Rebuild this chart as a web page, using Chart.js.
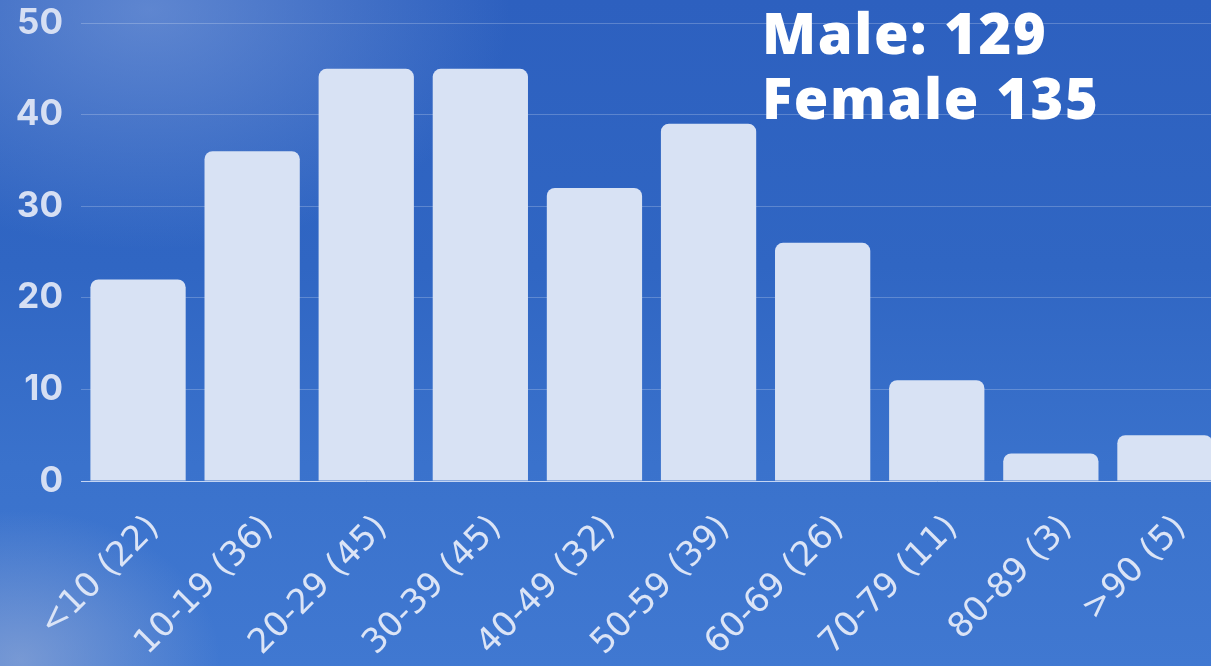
<!DOCTYPE html>
<html>
<head>
<meta charset="utf-8">
<script src="https://cdn.jsdelivr.net/npm/chart.js@4"></script>
<style>
  html, body { margin: 0; padding: 0; }
  body {
    width: 1211px; height: 666px; overflow: hidden; position: relative;
    background:
      radial-gradient(ellipse 360px 240px at 150px 10px, rgba(135,165,222,0.55), rgba(135,165,222,0) 100%),
      radial-gradient(ellipse 200px 150px at 20px 660px, rgba(165,180,215,0.55), rgba(165,180,215,0) 100%),
      linear-gradient(180deg, #2d60bf 0%, #3066c3 40%, #3a72cc 70%, #4078d1 100%);
  }
  #wrap { position: absolute; left: 0; top: -16px; width: 1222px; height: 682px; }
  #totals {
    position: absolute; left: 762px; top: 0px;
    font-family: "Open Sans", sans-serif; font-weight: 800; font-size: 56px;
    line-height: 65px; color: #ffffff; letter-spacing: 1.6px;
  }
</style>
</head>
<body>
<div id="wrap"><canvas id="ageChart"></canvas></div>
<div id="totals">Male: 129<br>Female 135</div>
<script>
const ageGroups = ['<10 (22)', '10-19 (36)', '20-29 (45)', '30-39 (45)', '40-49 (32)',
                   '50-59 (39)', '60-69 (26)', '70-79 (11)', '80-89 (3)', '>90 (5)'];
const counts = [22, 36, 45, 45, 32, 39, 26, 11, 3, 5];
const yTicks = [0, 10, 20, 30, 40, 50];

const ctx = document.getElementById('ageChart').getContext('2d');
new Chart(ctx, {
  type: 'bar',
  data: {
    labels: ageGroups,
    datasets: [{
      data: counts,
      backgroundColor: '#d8e2f4',
      borderRadius: 8,
      borderSkipped: 'bottom',
      categoryPercentage: 1,
      barPercentage: 0.835
    }]
  },
  options: {
    responsive: true,
    maintainAspectRatio: false,
    animation: false,
    layout: { padding: 0 },
    plugins: { legend: { display: false }, tooltip: { enabled: false } },
    scales: {
      x: {
        grid: { display: false },
        border: { display: true, color: 'rgba(220,230,250,0.8)', width: 1 },
        ticks: {
          color: '#dbe4f6',
          font: { family: 'DejaVu Sans', size: 34, weight: '500' },
          minRotation: 45, maxRotation: 45,
          padding: 19,
          labelOffset: 16
        },
        afterFit: s => { s.height = 185; }
      },
      y: {
        min: 0, max: 50,
        afterBuildTicks: s => { s.ticks = yTicks.map(v => ({ value: v })); },
        grid: { color: 'rgba(255,255,255,0.22)', lineWidth: 1, drawTicks: false },
        border: { display: false },
        ticks: {
          color: '#d6dff3',
          font: { family: 'Inter', size: 35, weight: 'bold' },
          padding: 18
        },
        afterFit: s => { s.width = 81; }
      }
    }
  }
});
</script>
</body>
</html>
